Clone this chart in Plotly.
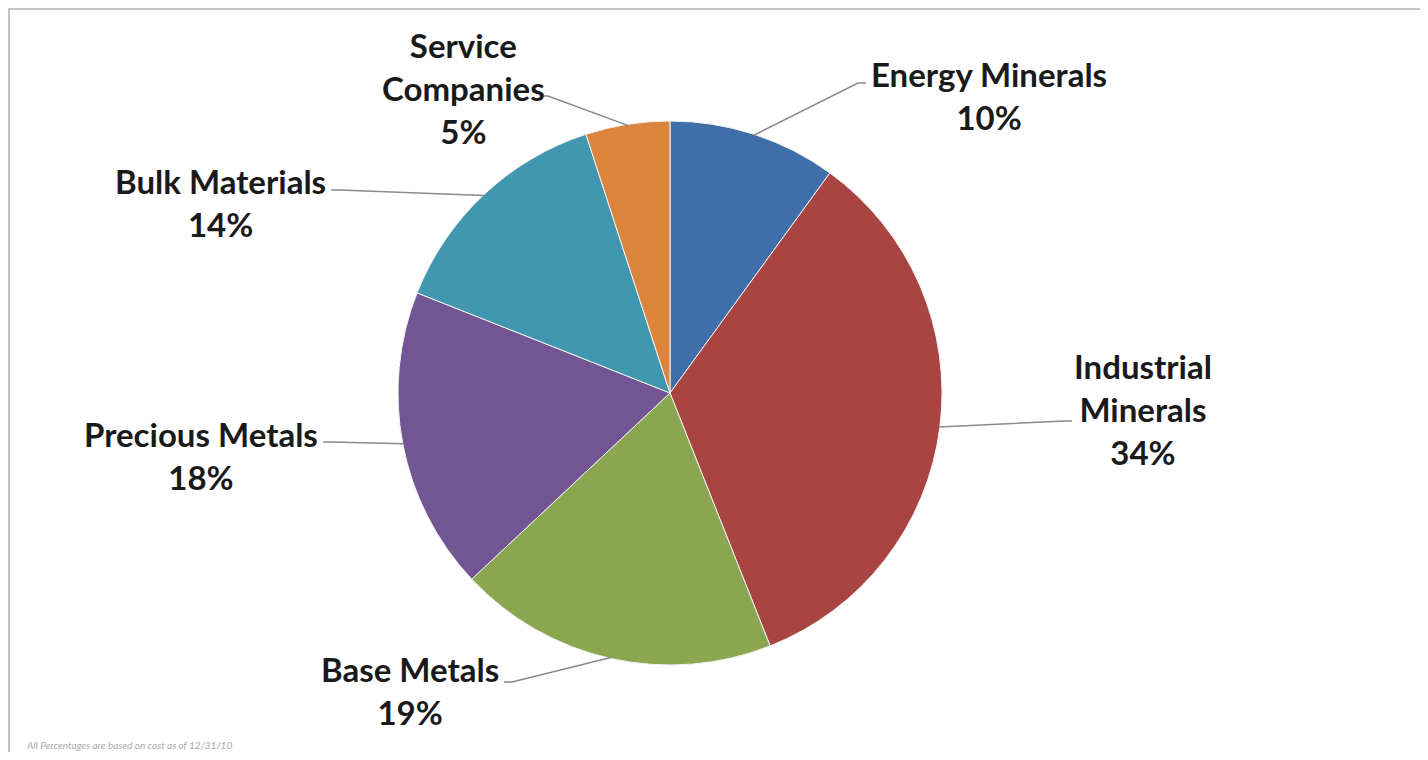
import math
import plotly.graph_objects as go

# ---- data ----
categories = ["Energy Minerals", "Industrial Minerals", "Base Metals",
              "Precious Metals", "Bulk Materials", "Service Companies"]
values = [10, 34, 19, 18, 14, 5]
label_texts = ["Energy Minerals<br>10%", "Industrial<br>Minerals<br>34%",
               "Base Metals<br>19%", "Precious Metals<br>18%",
               "Bulk Materials<br>14%", "Service<br>Companies<br>5%"]
footnote = "All Percentages are based on cost as of 12/31/10"

# ---- style ----
colors = ["#3F6FA8", "#A84543", "#8AA74F", "#725593", "#4097AF", "#DB853C"]
OFF = 8                              # page body margin
W, H = 1428 - 2 * OFF, 760 - 2 * OFF # figure size (fits inside body margins)
CX, CY, R = 670, 393, 272            # pie geometry in screen pixels
# label centre (screen px), leader-line start (screen px), stub direction
label_pos = [(989, 95), (1143, 409), (410, 690), (201, 455), (220, 202), (463, 88)]
leader_start = [(866, 83), (1072, 421), (504, 682), (323, 442), (331, 190), (540, 96)]
stub = [-8, -8, 8, 8, 8, 8]

fig = go.Figure(go.Pie(
    labels=categories, values=values, sort=False, direction="clockwise",
    rotation=0, textinfo="none", hoverinfo="label+percent",
    marker=dict(colors=colors, line=dict(color="#f2f2f2", width=1)),
    domain=dict(x=[0, 2 * (CX - OFF) / W],
                y=[(H - (CY - OFF) - R) / H, (H - (CY - OFF) + R) / H]),
    showlegend=False,
))

def px2paper(x, y):
    return (x - OFF) / W, (H - (y - OFF)) / H

shapes = []
annotations = []
total = sum(values)
cum = 0
for i, v in enumerate(values):
    mid = (cum + v / 2) / total * 2 * math.pi
    cum += v
    ex = CX + (R - 1) * math.sin(mid)
    ey = CY - (R - 1) * math.cos(mid)
    sx, sy = leader_start[i]
    p0 = px2paper(sx, sy)
    p1 = px2paper(sx + stub[i], sy)
    p2 = px2paper(ex, ey)
    shapes.append(dict(type="path", xref="paper", yref="paper",
                       path=f"M {p0[0]},{p0[1]} L {p1[0]},{p1[1]} L {p2[0]},{p2[1]}",
                       line=dict(color="#8a8a8a", width=1.5)))
    lx, ly = px2paper(*label_pos[i])
    annotations.append(dict(text="<b>" + label_texts[i] + "</b>", x=lx, y=ly,
                            xref="paper", yref="paper", showarrow=False,
                            xanchor="center", yanchor="middle", align="center",
                            font=dict(family="Lato, Open Sans, sans-serif", size=33,
                                      color="#1a1a1a")))

fx, _ = px2paper(25, 747)
annotations.append(dict(text="<i>" + footnote + "</i>", x=fx, y=0,
                        xref="paper", yref="paper", showarrow=False,
                        xanchor="left", yanchor="bottom", borderpad=0,
                        font=dict(family="Lato, sans-serif", size=10, color="#a8a8a8")))

# frame lines (top and left)
for (a, b, c, d) in [(OFF, 9, 1428 - OFF, 9), (OFF + 1, 9, OFF + 1, 760 - OFF)]:
    xa, ya = px2paper(a, b)
    xb, yb = px2paper(c, d)
    shapes.append(dict(type="line", xref="paper", yref="paper",
                       x0=xa, y0=ya, x1=xb, y1=yb,
                       line=dict(color="#c4c4c4", width=2)))

fig.update_layout(
    width=W, height=H, margin=dict(l=0, r=0, t=0, b=0),
    paper_bgcolor="#ffffff", plot_bgcolor="#ffffff",
    shapes=shapes, annotations=annotations,
)

fig.write_html("out.html")
